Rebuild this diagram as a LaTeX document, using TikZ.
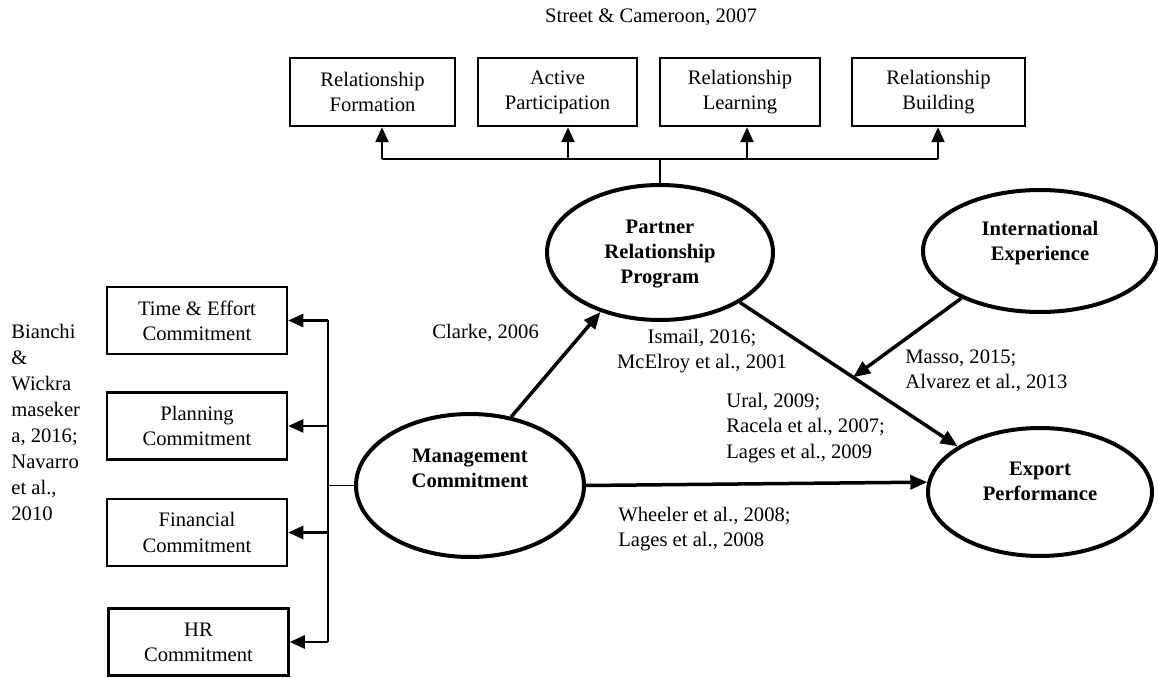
\documentclass[tikz,border=0pt]{standalone}
\usepackage{fontspec}
\setmainfont{Liberation Serif}
\usepackage{tikz}
\usetikzlibrary{shapes.geometric, arrows.meta, positioning, calc}
\definecolor{mydark}{RGB}{0,0,0}
\newcommand{\reftext}{\fontsize{10.3}{12.6}\selectfont}
\tikzset{
  box/.style={rectangle, draw=mydark, line width=1.25pt, inner sep=0pt,
    align=center, font=\reftext},
  construct/.style={ellipse, draw=mydark, line width=2pt, inner sep=0pt},
  conlabel/.style={inner sep=0pt, align=center, font=\reftext\bfseries},
  cite/.style={inner sep=0pt, align=left, font=\reftext},
  arrow/.style={-{Triangle[length=8.5pt,width=7pt]}, line width=1.75pt, color=mydark},
  branch/.style={-{Triangle[length=7.5pt,width=6.5pt]}, line width=1.2pt, color=mydark},
  line/.style={line width=0.65pt, color=mydark}
}

\begin{document}
\begin{tikzpicture}[x=0.5pt, y=-0.5pt]
  \useasboundingbox (0,0) rectangle (1158,678);

  % Source of the program dimensions
  \node[cite, anchor=base] (src) at (651,23) {Street \& Cameroon, 2007};

  % Dimensions of the partner relationship program
  \foreach \b/\x/\w/\t in {rf/372.5/82.5pt/{Relationship\\Formation},
                           ap/557.5/79.5pt/{Active\\Participation},
                           rl/740/80pt/{Relationship\\Learning},
                           rb/938.5/86.5pt/{Relationship\\Building}} {
    \node[box, minimum width=\w, minimum height=34pt] (\b) at (\x,92) {\t};
  }

  % Dimensions of management commitment
  \foreach \b/\x/\y/\t in {te/197/320.5/{Time \& Effort\\Commitment},
                           pc/197/426/{Planning\\Commitment},
                           fc/197/532.5/{Financial\\Commitment},
                           hr/198.5/642/{HR\\Commitment}} {
    \node[box, minimum width=90pt, minimum height=33.5pt] (\b) at (\x,\y) {\t};
  }
  \node[cite, font=\fontsize{10.3}{13}\selectfont, anchor=west] (bianchi) at (11,422.5)
    {Bianchi\\\&\\Wickra\\maseker\\a, 2016;\\Navarro\\et al.,\\2010};

  % Constructs
  \node[construct, minimum width=113pt, minimum height=67.5pt] (prp) at (660,252.5) {};
  \node[conlabel] (prplabel) at (660,254) {Partner\\Relationship\\Program};
  \node[construct, minimum width=117pt, minimum height=61pt] (ie) at (1040,251) {};
  \node[conlabel] (ielabel) at (1040,243) {International\\Experience};
  \node[construct, minimum width=114pt, minimum height=71.5pt] (mc) at (470,485.5) {};
  \node[conlabel] (mclabel) at (470,468) {Management\\Commitment};
  \node[construct, minimum width=112pt, minimum height=64pt] (ep) at (1040,492) {};
  \node[conlabel] (eplabel) at (1040,481.5) {Export\\Performance};

  % Path citations
  \node[cite, anchor=base west] (clarke) at (432,339) {Clarke, 2006};
  \node[cite, align=center] (ismail) at (702,351) {Ismail, 2016;\\McElroy et al., 2001};
  \node[cite, anchor=west] (ural) at (726,428) {Ural, 2009;\\Racela et al., 2007;\\Lages et al., 2009};
  \node[cite, anchor=west] (masso) at (905,370.5) {Masso, 2015;\\Alvarez et al., 2013};
  \node[cite, anchor=west] (wheeler) at (618,529) {Wheeler et al., 2008;\\Lages et al., 2008};

  % Top bus
  \coordinate (bus) at (660,159);
  \draw[line] (prp.north) -- (bus);
  \foreach \b/\x in {rf/382, ap/568, rl/747, rb/938} {
    \coordinate (bus\b) at (\x,159);
    \draw[branch] (bus\b) -- (bus\b |- \b.south);
  }
  \draw[line] (busrf) -- (busrb);

  % Left spine
  \coordinate (spine) at (328,485.5);
  \draw[line] (mc.west) -- (spine);
  \draw[line] (spine |- te.east) -- (spine |- hr.east);
  \foreach \b in {te, pc, fc, hr} {
    \draw[branch] (spine |- \b.east) -- (\b.east);
  }

  % Paths of the model
  \draw[arrow] (mc.59) -- (prp.225);
  \draw[arrow] (prp.328) -- (ep.151);
  \coordinate (meet) at ($(prp.328)!0.52!(ep.151)$);
  \draw[arrow] (ie.211) -- (meet);
  \draw[arrow] (mc.east) -- (ep.175);
\end{tikzpicture}
\end{document}
